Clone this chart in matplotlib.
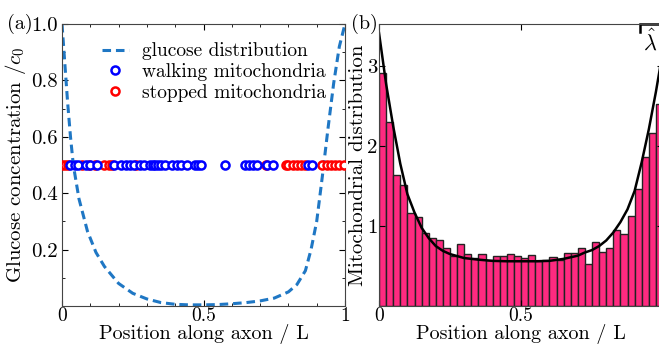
import numpy as np
import matplotlib
matplotlib.use('Agg')
import matplotlib.pyplot as plt
from matplotlib.ticker import MultipleLocator

plt.rcParams['font.family'] = ['cmr10', 'DejaVu Serif']
plt.rcParams['mathtext.fontset'] = 'cm'
plt.rcParams['axes.formatter.use_mathtext'] = True

# (a) glucose profile along the axon
glu_x = [0, 0.01, 0.02, 0.03, 0.04, 0.06, 0.09, 0.12, 0.15, 0.2, 0.25, 0.3, 0.35,
         0.4, 0.45, 0.5, 0.55, 0.6, 0.65, 0.7, 0.75, 0.8, 0.83, 0.86, 0.88, 0.9,
         0.92, 0.94, 0.96, 0.98, 1.0]
glu_y = [1.0, 0.86, 0.72, 0.6, 0.5, 0.38, 0.265, 0.19, 0.14, 0.08, 0.045, 0.025,
         0.012, 0.006, 0.004, 0.004, 0.005, 0.008, 0.012, 0.018, 0.028, 0.05, 0.076,
         0.125, 0.2, 0.3, 0.46, 0.63, 0.79, 0.92, 1.0]

walking_x = [0.03, 0.045, 0.055, 0.085, 0.10, 0.125, 0.185, 0.21, 0.225, 0.24, 0.255,
             0.275, 0.29, 0.31, 0.32, 0.33, 0.34, 0.35, 0.365, 0.39, 0.405, 0.42,
             0.44, 0.47, 0.48, 0.49, 0.575, 0.645, 0.66, 0.675, 0.69, 0.725, 0.745,
             0.87, 0.885]
stopped_x = [0.0, 0.01, 0.02, 0.07, 0.095, 0.115, 0.15, 0.165, 0.175, 0.26, 0.72,
             0.79, 0.80, 0.815, 0.83, 0.845, 0.86, 0.92, 0.935, 0.95, 0.965, 0.98,
             0.995]
marker_level = 0.5

# (b) histogram of mitochondria positions (40 bins) and fitted curve
hist_heights = [2.92, 2.30, 1.64, 1.51, 1.17, 1.12, 0.91, 0.85, 0.83, 0.73,
                0.62, 0.78, 0.65, 0.60, 0.65, 0.58, 0.62, 0.62, 0.65, 0.62,
                0.60, 0.64, 0.56, 0.58, 0.61, 0.58, 0.66, 0.66, 0.72, 0.52,
                0.80, 0.68, 0.73, 0.95, 0.90, 1.13, 1.46, 1.87, 2.16, 2.53]
fit_x = [0, 0.025, 0.05, 0.075, 0.1, 0.125, 0.15, 0.175, 0.2, 0.225, 0.25, 0.3,
         0.35, 0.4, 0.45, 0.5, 0.55, 0.6, 0.65, 0.7, 0.725, 0.75, 0.775, 0.8,
         0.825, 0.85, 0.875, 0.9, 0.925, 0.95, 0.975, 1.0]
fit_y = [3.42, 2.78, 2.25, 1.78, 1.40, 1.17, 0.98, 0.85, 0.75, 0.69, 0.65, 0.60,
         0.58, 0.565, 0.56, 0.56, 0.56, 0.565, 0.59, 0.63, 0.67, 0.70, 0.75, 0.82,
         0.92, 1.05, 1.21, 1.44, 1.80, 2.21, 2.68, 3.2]

fig = plt.figure(figsize=(6.59, 3.45), dpi=100)
ax1 = fig.add_axes([62/659, 39/345, 283/659, 282/345])
ax2 = fig.add_axes([379/659, 39/345, 284/659, 282/345])

# ---- panel (a)
ax1.plot(glu_x, glu_y, ls=(0, (2.8, 1.6)), color='#1f77c4', lw=2.2,
         label='glucose distribution')
ax1.plot(stopped_x, [marker_level]*len(stopped_x), 'o', mfc='white', mec='red',
         mew=1.8, ms=5.8, ls='none', label='stopped mitochondria', zorder=3)
ax1.plot(walking_x, [marker_level]*len(walking_x), 'o', mfc='white', mec='blue',
         mew=1.8, ms=5.8, ls='none', label='walking mitochondria', zorder=4)
ax1.set_xlim(0, 1)
ax1.set_ylim(0, 1)
ax1.set_xticks([0, 0.5, 1])
ax1.set_xticklabels(['0', '0.5', '1'])
ax1.set_yticks([0.2, 0.4, 0.6, 0.8, 1.0])
ax1.set_yticklabels(['0.2', '0.4', '0.6', '0.8', '1.0'])
ax1.yaxis.set_minor_locator(MultipleLocator(0.1))
ax1.xaxis.set_minor_locator(MultipleLocator(0.1))
ax1.set_xlabel('Position along axon / L', fontsize=14.5, labelpad=-1)
ax1.set_ylabel(r'Glucose concentration $/c_0$', fontsize=15, labelpad=2)
h, l = ax1.get_legend_handles_labels()
ax1.legend([h[0], h[2], h[1]], [l[0], l[2], l[1]], loc='upper left',
           bbox_to_anchor=(0.14, 0.935), frameon=False, fontsize=14,
           handlelength=1.4, handletextpad=0.7, labelspacing=0.15,
           borderaxespad=0, borderpad=0)
ax1.text(-0.195, 1.0, '(a)', transform=ax1.transAxes, fontsize=14.5, va='center')

# ---- panel (b)
edges = np.linspace(0, 1, len(hist_heights) + 1)
ax2.bar(edges[:-1], hist_heights, width=edges[1] - edges[0], align='edge',
        color='#ff2a80', edgecolor='#222222', lw=1.0)
ax2.plot(fit_x, fit_y, color='black', lw=1.8)
ax2.set_xlim(0, 1)
ax2.set_ylim(0, 3.53)
ax2.set_xticks([0, 0.5])
ax2.set_xticklabels(['0', '0.5'])
ax2.set_yticks([1, 2, 3])
ax2.set_yticklabels(['1', '2', '3'])
ax2.set_xlabel('Position along axon / L', fontsize=14.5, labelpad=-1)
ax2.set_ylabel('Mitochondrial distribution', fontsize=15, labelpad=0)
# corner of the legend box that is cut by the figure edge
ax2.plot([0.919, 0.919, 1.1], [0.972, 1.0, 1.0], color='black', lw=1.8,
         transform=ax2.transAxes, clip_on=False, solid_joinstyle='miter')
ax2.text(0.93, 0.985, r'$\hat{\lambda}$', transform=ax2.transAxes, fontsize=16,
         va='top', ha='left')
ax2.text(-0.1, 1.0, '(b)', transform=ax2.transAxes, fontsize=14.5, va='center')

for ax in (ax1, ax2):
    ax.tick_params(which='both', direction='in', top=True, right=True,
                   labelsize=15)
    ax.tick_params(which='major', length=4)
    ax.tick_params(which='minor', length=2.5)
    ax.tick_params(axis='x', pad=1, labelsize=14)
    for s in ax.spines.values():
        s.set_linewidth(0.8)
        s.set_color('#444444')
ax1.tick_params(axis='y', pad=3)
ax2.tick_params(axis='y', pad=1)

fig.savefig('out.png', dpi=100)
